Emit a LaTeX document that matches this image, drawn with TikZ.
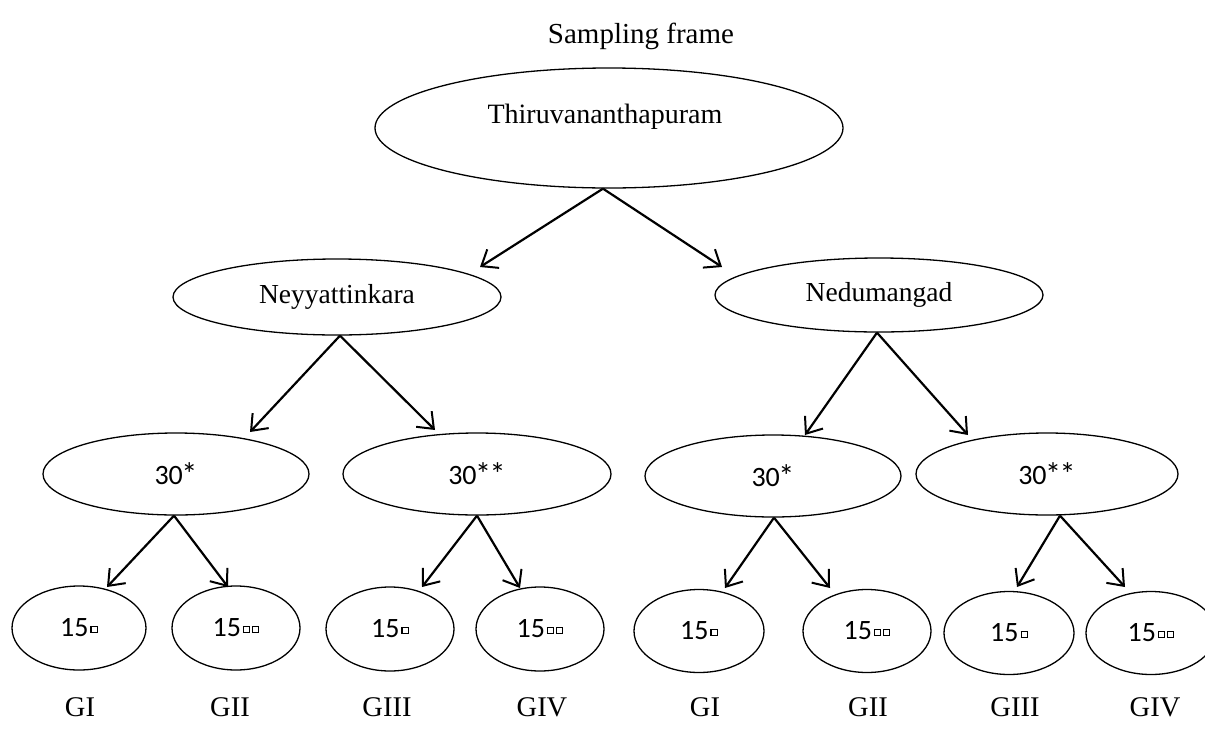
\documentclass[tikz,border=0pt]{standalone}
\usepackage{fontspec}
\setmainfont{Liberation Serif}
\newfontfamily\calfont{Carlito}
\usetikzlibrary{shapes.geometric,arrows.meta}
\newcommand\sqb{\raisebox{5pt}{\setlength{\fboxsep}{0pt}\setlength{\fboxrule}{1.2pt}\fbox{\rule{0pt}{4.8pt}\hspace{5pt}}}}
\newcommand\onesq{\kern2pt\sqb}
\newcommand\twosq{\kern2pt\sqb\kern1.6pt\sqb}
\newcommand\myast{\kern-1.5pt\raisebox{-1pt}{\scalebox{1.15}{*}}}
\begin{document}
\begin{tikzpicture}[x=1pt,y=-1pt,
  ell/.style={draw, ellipse, line width=1.3pt, inner sep=0pt},
  serif/.style={font=\fontsize{27.5}{30}\selectfont},
  num/.style={font=\calfont\fontsize{28}{30}\selectfont},
  arr/.style={line width=2.2pt, -{Straight Barb[length=14pt,width=22pt,line width=2pt]}},
  lab/.style={font=\fontsize{28.5}{30}\selectfont}]
\useasboundingbox (0,0) rectangle (1205,734);
\clip (0,0) rectangle (1205,734);
% title
\node[font=\fontsize{29}{30}\selectfont] (title) at (641,36) {Sampling frame};
% level 1
\node[ell, minimum width=468pt, minimum height=120pt] (thiru) at (609,128) {};
\node[font=\fontsize{28}{30}\selectfont] (thirutxt) at (605,117) {Thiruvananthapuram};
% level 2
\node[ell, serif, minimum width=328pt, minimum height=76pt] (neyy) at (337,297) {Neyyattinkara};
\node[ell, serif, minimum width=328pt, minimum height=74pt] (nedu) at (879,295) {Nedumangad};
% level 3
\node[ell, num, minimum width=266pt, minimum height=82pt] (a1) at (176,474) {30\myast};
\node[ell, num, minimum width=268pt, minimum height=82pt] (a2) at (477,474) {30\myast\myast};
\node[ell, num, minimum width=256pt, minimum height=82pt] (a3) at (773,476) {30\myast};
\node[ell, num, minimum width=262pt, minimum height=82pt] (a4) at (1047,474) {30\myast\myast};
% level 4
\node[ell, num, minimum width=134pt, minimum height=84pt] (b1) at (79,628) {15\onesq};
\node[ell, num, minimum width=128pt, minimum height=84pt] (b2) at (236,628) {15\twosq};
\node[ell, num, minimum width=128pt, minimum height=84pt] (b3) at (390,629) {15\onesq};
\node[ell, num, minimum width=128pt, minimum height=84pt] (b4) at (540,629) {15\twosq};
\node[ell, num, minimum width=130pt, minimum height=83pt] (b5) at (699,631) {15\onesq};
\node[ell, num, minimum width=128pt, minimum height=83pt] (b6) at (867,631) {15\twosq};
\node[ell, num, minimum width=130pt, minimum height=83pt] (b7) at (1009,633) {15\onesq};
\node[ell, num, minimum width=130pt, minimum height=83pt] (b8) at (1151,633) {15\twosq};
% group labels
\node[lab] (g1) at (80,707) {GI};
\node[lab] (g2) at (230,707) {GII};
\node[lab] (g3) at (387,707) {GIII};
\node[lab] (g4) at (542,707) {GIV};
\node[lab] (g5) at (705,707) {GI};
\node[lab] (g6) at (868,707) {GII};
\node[lab] (g7) at (1015,707) {GIII};
\node[lab] (g8) at (1155,707) {GIV};
% arrow tip coordinates
\coordinate (tneyy) at (480,267);
\coordinate (tnedu) at (722,267);
\coordinate (ta1) at (250,432);
\coordinate (ta2) at (435,430);
\coordinate (ta3) at (805,435);
\coordinate (ta4) at (968,435);
\coordinate (tb1) at (107,587);
\coordinate (tb2) at (228,587);
\coordinate (tb3) at (422,587);
\coordinate (tb4) at (520,588);
\coordinate (tb5) at (725,588);
\coordinate (tb6) at (830,588);
\coordinate (tb7) at (1017,587);
\coordinate (tb8) at (1125,587);
% connectors
\draw[arr] ([xshift=-6pt]thiru.south) -- (tneyy);
\draw[arr] ([xshift=-6pt]thiru.south) -- (tnedu);
\draw[arr] ([xshift=3pt]neyy.south) -- (ta1);
\draw[arr] ([xshift=3pt]neyy.south) -- (ta2);
\draw[arr] ([xshift=-2pt]nedu.south) -- (ta3);
\draw[arr] ([xshift=-2pt]nedu.south) -- (ta4);
\draw[arr] ([xshift=-2pt]a1.south) -- (tb1);
\draw[arr] ([xshift=-2pt]a1.south) -- (tb2);
\draw[arr] (a2.south) -- (tb3);
\draw[arr] (a2.south) -- (tb4);
\draw[arr] ([xshift=1pt]a3.south) -- (tb5);
\draw[arr] ([xshift=1pt]a3.south) -- (tb6);
\draw[arr] ([xshift=13pt]a4.south) -- (tb7);
\draw[arr] ([xshift=13pt]a4.south) -- (tb8);
\end{tikzpicture}
\end{document}
